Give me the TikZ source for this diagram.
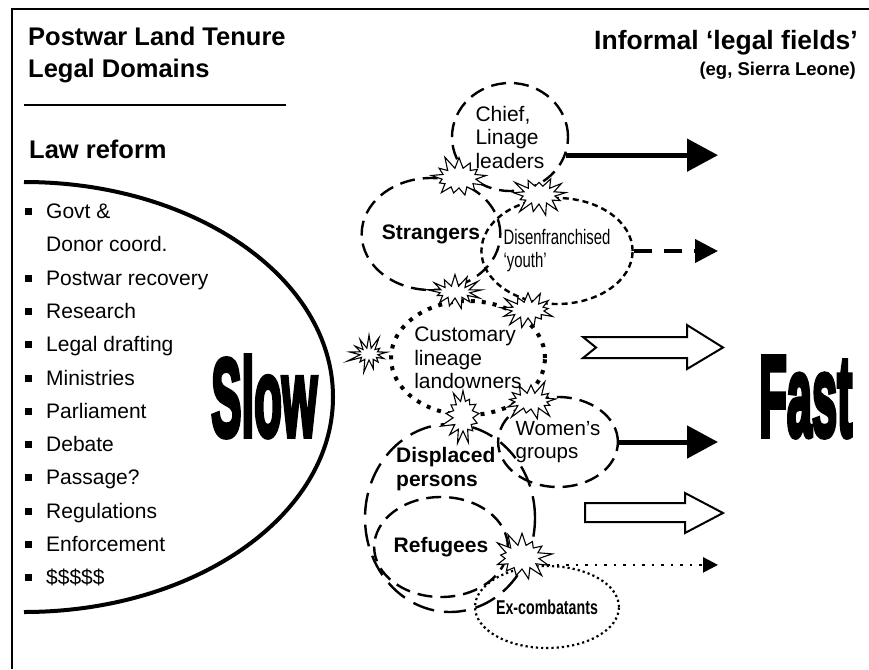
\documentclass[tikz,border=0pt]{standalone}
\usepackage{fontspec}
\setmainfont{Liberation Sans}
\newfontfamily\narrowfont[FakeStretch=0.71]{Liberation Sans}
\newfontfamily\heavyfont[BoldFeatures={FakeBold=5}]{Liberation Sans}
\usetikzlibrary{shapes.geometric,shapes.symbols,arrows.meta}
\newcommand\sqbullet{\makebox[21pt][l]{\rule[3.5pt]{7pt}{7pt}}}
\begin{document}
\begin{tikzpicture}[x=1pt,y=-1pt,
  txt/.style={inner sep=0pt, font=\fontsize{21}{23.5}\selectfont},
  titletxt/.style={inner sep=0pt, font=\fontsize{25.5}{32}\selectfont\bfseries},
  item/.style={txt, anchor=base west},
  region/.style={ellipse, draw, inner sep=0pt, align=left, font=\fontsize{21}{23.5}\selectfont},
  longdash/.style={line width=2.4pt, dash pattern=on 15pt off 8pt},
  longerdash/.style={line width=2.4pt, dash pattern=on 22pt off 10pt},
  shortdash/.style={line width=2.4pt, dash pattern=on 6pt off 4pt},
  bigdots/.style={line width=4pt, dash pattern=on 4pt off 7pt},
  finedots/.style={line width=2.2pt, dash pattern=on 2.2pt off 3pt},
  burst/.style={starburst, draw, fill=white, line width=1.1pt, inner sep=0pt,
    starburst points=13, starburst point height=14pt, random starburst=#1},
  solidarrow/.style={line width=5pt, -{Triangle[length=31pt,width=32pt]}},
  dasharrow/.style={line width=4pt, dash pattern=on 18pt off 12pt, -{Triangle[length=23pt,width=23pt]}},
  dotarrow/.style={line width=2.5pt, dash pattern=on 2.5pt off 7pt, -{Triangle[length=15pt,width=15pt]}},
  hollow/.style={draw, line width=2pt, fill=white, line join=miter}
]
\useasboundingbox (0,0) rectangle (869,669);
% frame
\coordinate (fa) at (12,669);
\coordinate (fb) at (12,9);
\coordinate (fc) at (869,9);
\draw[line width=2.5pt] (fa) -- (fb) -- (fc);

% titles
\node[titletxt, anchor=base west] (t1) at (28,45.5) {Postwar Land Tenure};
\node[titletxt, anchor=base west] (t2) at (28,77.5) {Legal Domains};
\coordinate (r1) at (24,105);
\coordinate (r2) at (286,105);
\draw[line width=2.2pt] (r1) -- (r2);
\node[titletxt, anchor=base west] (t3) at (29,158) {Law reform};
\node[inner sep=0pt, anchor=base east, font=\fontsize{26.5}{32}\selectfont\bfseries] (t4) at (858,49) {Informal ‘legal fields’};
\node[inner sep=0pt, anchor=base east, font=\fontsize{18.5}{22}\selectfont\bfseries] (t5) at (856,75) {(eg, Sierra Leone)};

% big arc
\coordinate (arcstart) at (24,182);
\draw[line width=4pt] (arcstart) arc[start angle=-90, end angle=90, x radius=309, y radius=215];

% bullet list
\node[item] (i1) at (25,218.5) {\sqbullet Govt \&};
\node[item] (i1b) at (46,251.8) {Donor coord.};
\node[item] (i2) at (25,285.1) {\sqbullet Postwar recovery};
\node[item] (i3) at (25,318.4) {\sqbullet Research};
\node[item] (i4) at (25,351.7) {\sqbullet Legal drafting};
\node[item] (i5) at (25,385.0) {\sqbullet Ministries};
\node[item] (i6) at (25,418.3) {\sqbullet Parliament};
\node[item] (i7) at (25,451.6) {\sqbullet Debate};
\node[item] (i8) at (25,484.9) {\sqbullet Passage?};
\node[item] (i9) at (25,518.2) {\sqbullet Regulations};
\node[item] (i10) at (25,551.5) {\sqbullet Enforcement};
\node[item] (i11) at (25,584.8) {\sqbullet \$\$\$\$\$};

% Slow / Fast
\node[inner sep=0pt, anchor=base west] (slow) at (211,436) {\resizebox{106pt}{80pt}{\heavyfont\bfseries Slow}};
\node[inner sep=0pt, anchor=base west] (fast) at (759,436) {\resizebox{93pt}{79pt}{\heavyfont\bfseries Fast}};

% regions
\node[region, longdash, minimum width=116pt, minimum height=108pt] (chief) at (510,137) {Chief,\\Linage\\leaders};
\node[region, longdash, minimum width=112pt, minimum height=112pt, font=\fontsize{21}{23.5}\selectfont\bfseries] (strangers) at (431,234) {Strangers};
\node[region, shortdash, minimum width=124pt, minimum height=106pt, font=\fontsize{21}{23}\selectfont\narrowfont] (youth) at (557,251) {Disenfranchised\\‘youth’};
\node[region, bigdots, minimum width=154pt, minimum height=114pt] (cust) at (468,358) {Customary\\lineage\\landowners};
\node[region, longdash, minimum width=92pt, minimum height=90pt, font=\fontsize{20.5}{23}\selectfont] (women) at (558,442) {Women’s\\groups};
\node[region, longerdash, minimum width=170pt, minimum height=188pt] (displaced) at (450,518) {};
\node[inner sep=0pt, anchor=west, align=left, font=\fontsize{21}{23.5}\selectfont\bfseries] (dtext) at (396,469) {Displaced\\persons};
\node[region, longdash, minimum width=108pt, minimum height=100pt, font=\fontsize{21}{23.5}\selectfont\bfseries] (refugees) at (441,547) {Refugees};
\node[region, finedots, minimum width=120pt, minimum height=82pt, font=\fontsize{20}{22}\selectfont\narrowfont\bfseries] (excomb) at (547,607) {Ex-combatants};

% bursts
\node[burst=11, minimum width=62pt, minimum height=48pt] (s1) at (459,178) {};
\node[burst=23, minimum width=60pt, minimum height=46pt] (s2) at (539,195) {};
\node[burst=37, minimum width=58pt, minimum height=40pt] (s3) at (455,292) {};
\node[burst=41, minimum width=60pt, minimum height=44pt] (s4) at (528,310) {};
\node[burst=53, minimum width=46pt, minimum height=40pt] (s5) at (369,354) {};
\node[burst=67, minimum width=48pt, minimum height=58pt] (s6) at (463,416) {};
\node[burst=71, minimum width=60pt, minimum height=44pt] (s7) at (531,401) {};
\node[burst=83, minimum width=62pt, minimum height=52pt] (s8) at (522,557) {};

% arrows
\coordinate (tip1) at (718,155);
\coordinate (tip2) at (718,251);
\coordinate (tip4) at (718,443);
\coordinate (tip6) at (718,566);
\draw[solidarrow] (chief.-18) -- (chief.-18 -| tip1);
\draw[dasharrow] (youth.east) -- (youth.east -| tip2);
\draw[solidarrow] (women.east) -- (women.east -| tip4);
\draw[dotarrow] (excomb.north) -- (excomb.north -| tip6);

% hollow block arrows
\coordinate (h1) at (583,337);
\draw[hollow] (h1) -- (687,337) -- (687,325) -- (723,347.5) -- (687,369) -- (687,358) -- (583,358) -- (596,347.5) -- cycle;
\coordinate (h2) at (585,503);
\draw[hollow] (h2) -- (685,503) -- (685,493) -- (723,513) -- (685,533) -- (685,522) -- (585,522) -- cycle;
\end{tikzpicture}
\end{document}
